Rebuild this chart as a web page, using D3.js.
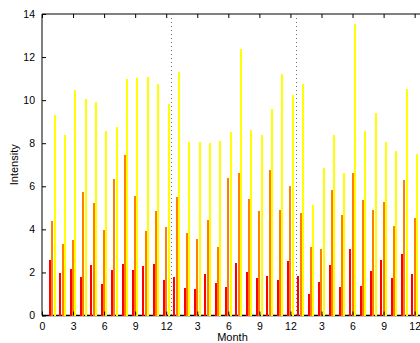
<!DOCTYPE html>
<html>
<head>
<meta charset="utf-8">
<script src="https://cdn.jsdelivr.net/npm/d3@7/dist/d3.min.js"></script>
<style>
  html, body { margin: 0; padding: 0; background: #fff; }
  svg { display: block; }
  text { font-family: "Liberation Sans", Arial, Helvetica, sans-serif; fill: #000; }
</style>
</head>
<body>
<svg id="chart" width="420" height="343"></svg>
<script>
// Monthly intensity over three consecutive years (36 months)
const months = d3.range(1, 37);
const seriesNames = ["low", "mid", "high"];
const seriesColors = ["#ff0000", "#ff8000", "#ffff00"];

const lowValues = [
  2.58, 1.97, 2.16, 1.79, 2.34, 1.46, 2.11, 2.39, 2.11, 2.30, 2.39, 1.65,
  1.79, 1.28, 1.23, 1.93, 1.51, 1.32, 2.44, 2.02, 1.74, 1.83, 1.65, 2.53,
  1.83, 1.00, 1.56, 2.34, 1.32, 3.09, 1.37, 2.07, 2.58, 1.74, 2.86, 1.93
];
const midValues = [
  4.39, 3.32, 3.50, 5.73, 5.22, 3.97, 6.34, 7.45, 5.55, 3.92, 4.85, 4.11,
  5.50, 3.83, 3.55, 4.43, 3.18, 6.38, 6.62, 5.41, 4.85, 6.75, 4.90, 6.01,
  4.76, 3.18, 3.09, 5.83, 4.66, 6.62, 5.36, 4.90, 5.27, 4.16, 6.29, 4.53
];
const highValues = [
  9.30, 8.38, 10.47, 10.05, 9.91, 8.56, 8.75, 10.98, 11.03, 11.07, 10.76, 9.82,
  11.32, 8.05, 8.05, 7.99, 8.10, 8.52, 12.37, 8.61, 8.38, 9.59, 11.21, 10.24,
  10.75, 5.13, 6.85, 8.38, 6.62, 13.53, 8.56, 9.40, 8.05, 7.64, 10.52, 7.50
];
const xTickValues = [0, 3, 6, 9, 12, 15, 18, 21, 24, 27, 30, 33, 36];
const xTickLabels = ["0", "3", "6", "9", "12", "3", "6", "9", "12", "3", "6", "9", "12"];
const yTickValues = [0, 2, 4, 6, 8, 10, 12, 14];
const yearBreaks = [12.5, 24.5];

const series = [lowValues, midValues, highValues];

const svg = d3.select("#chart");
const plotLeft = 42, plotRight = 425, plotTop = 14, plotBottom = 315.5;

const x = d3.scaleLinear().domain([0, 37]).range([plotLeft, plotRight]);
const y = d3.scaleLinear().domain([0, 14]).range([plotBottom, plotTop]);

// grouped bar layout: three bars per month
const nBars = series.length;
const groupWidth = Math.min(0.8, nBars / (nBars + 1.5));
const offset = i => -groupWidth / 2 + (2 * i + 1) * groupWidth / (2 * nBars);
const barPx = 2;

// axes box (top and left sides, bottom baseline)
const frame = svg.append("g");
frame.append("line").attr("x1", plotLeft).attr("x2", plotRight).attr("y1", plotTop).attr("y2", plotTop)
  .attr("stroke", "#000").attr("stroke-width", 1);
frame.append("line").attr("x1", plotLeft).attr("x2", plotLeft).attr("y1", plotTop).attr("y2", plotBottom)
  .attr("stroke", "#000").attr("stroke-width", 1);
frame.append("line").attr("x1", plotLeft).attr("x2", plotRight).attr("y1", plotBottom).attr("y2", plotBottom)
  .attr("stroke", "#000").attr("stroke-width", 1.5);

// bars, snapped to whole pixels
series.forEach((vals, i) => {
  svg.append("g").attr("shape-rendering", "crispEdges").selectAll("rect")
    .data(months)
    .join("rect")
    .attr("x", m => Math.round(x(m + offset(i)) - barPx / 2))
    .attr("width", barPx)
    .attr("y", (m, k) => Math.round(y(vals[k])))
    .attr("height", (m, k) => Math.round(y(0)) - Math.round(y(vals[k])))
    .attr("fill", seriesColors[i]);
});

// year separators
svg.append("g").selectAll("line")
  .data(yearBreaks)
  .join("line")
  .attr("x1", d => Math.round(x(d)) + 0.5).attr("x2", d => Math.round(x(d)) + 0.5)
  .attr("y1", plotTop).attr("y2", plotBottom)
  .attr("stroke", "#6a6a6a").attr("stroke-width", 1)
  .attr("stroke-dasharray", "1,3");

// x axis (ticks pointing inward, mirrored on top)
const xAxis = d3.axisBottom(x)
  .tickValues(xTickValues)
  .tickFormat((d, i) => xTickLabels[i])
  .tickSizeInner(-4).tickSizeOuter(0).tickPadding(7);
const gx = svg.append("g").attr("transform", `translate(0,${plotBottom})`).call(xAxis);
gx.select(".domain").remove();
gx.selectAll("text").attr("font-size", 10.5).attr("font-family", "Liberation Sans, Arial, sans-serif");

const xTop = d3.axisTop(x).tickValues(xTickValues).tickFormat("").tickSizeInner(-4).tickSizeOuter(0);
const gxt = svg.append("g").attr("transform", `translate(0,${plotTop})`).call(xTop);
gxt.select(".domain").remove();

// y axis
const yAxis = d3.axisLeft(y)
  .tickValues(yTickValues)
  .tickFormat(d3.format("d"))
  .tickSizeInner(-4).tickSizeOuter(0).tickPadding(7);
const gy = svg.append("g").attr("transform", `translate(${plotLeft},0)`).call(yAxis);
gy.select(".domain").remove();
gy.selectAll("text").attr("font-size", 10.5).attr("font-family", "Liberation Sans, Arial, sans-serif");

// axis titles
svg.append("text")
  .attr("x", (plotLeft + plotRight) / 2 - 1).attr("y", 341)
  .attr("text-anchor", "middle").attr("font-size", 11)
  .text("Month");
svg.append("text")
  .attr("transform", `translate(18,${(plotTop + plotBottom) / 2}) rotate(-90)`)
  .attr("text-anchor", "middle").attr("font-size", 11)
  .text("Intensity");
</script>
</body>
</html>
